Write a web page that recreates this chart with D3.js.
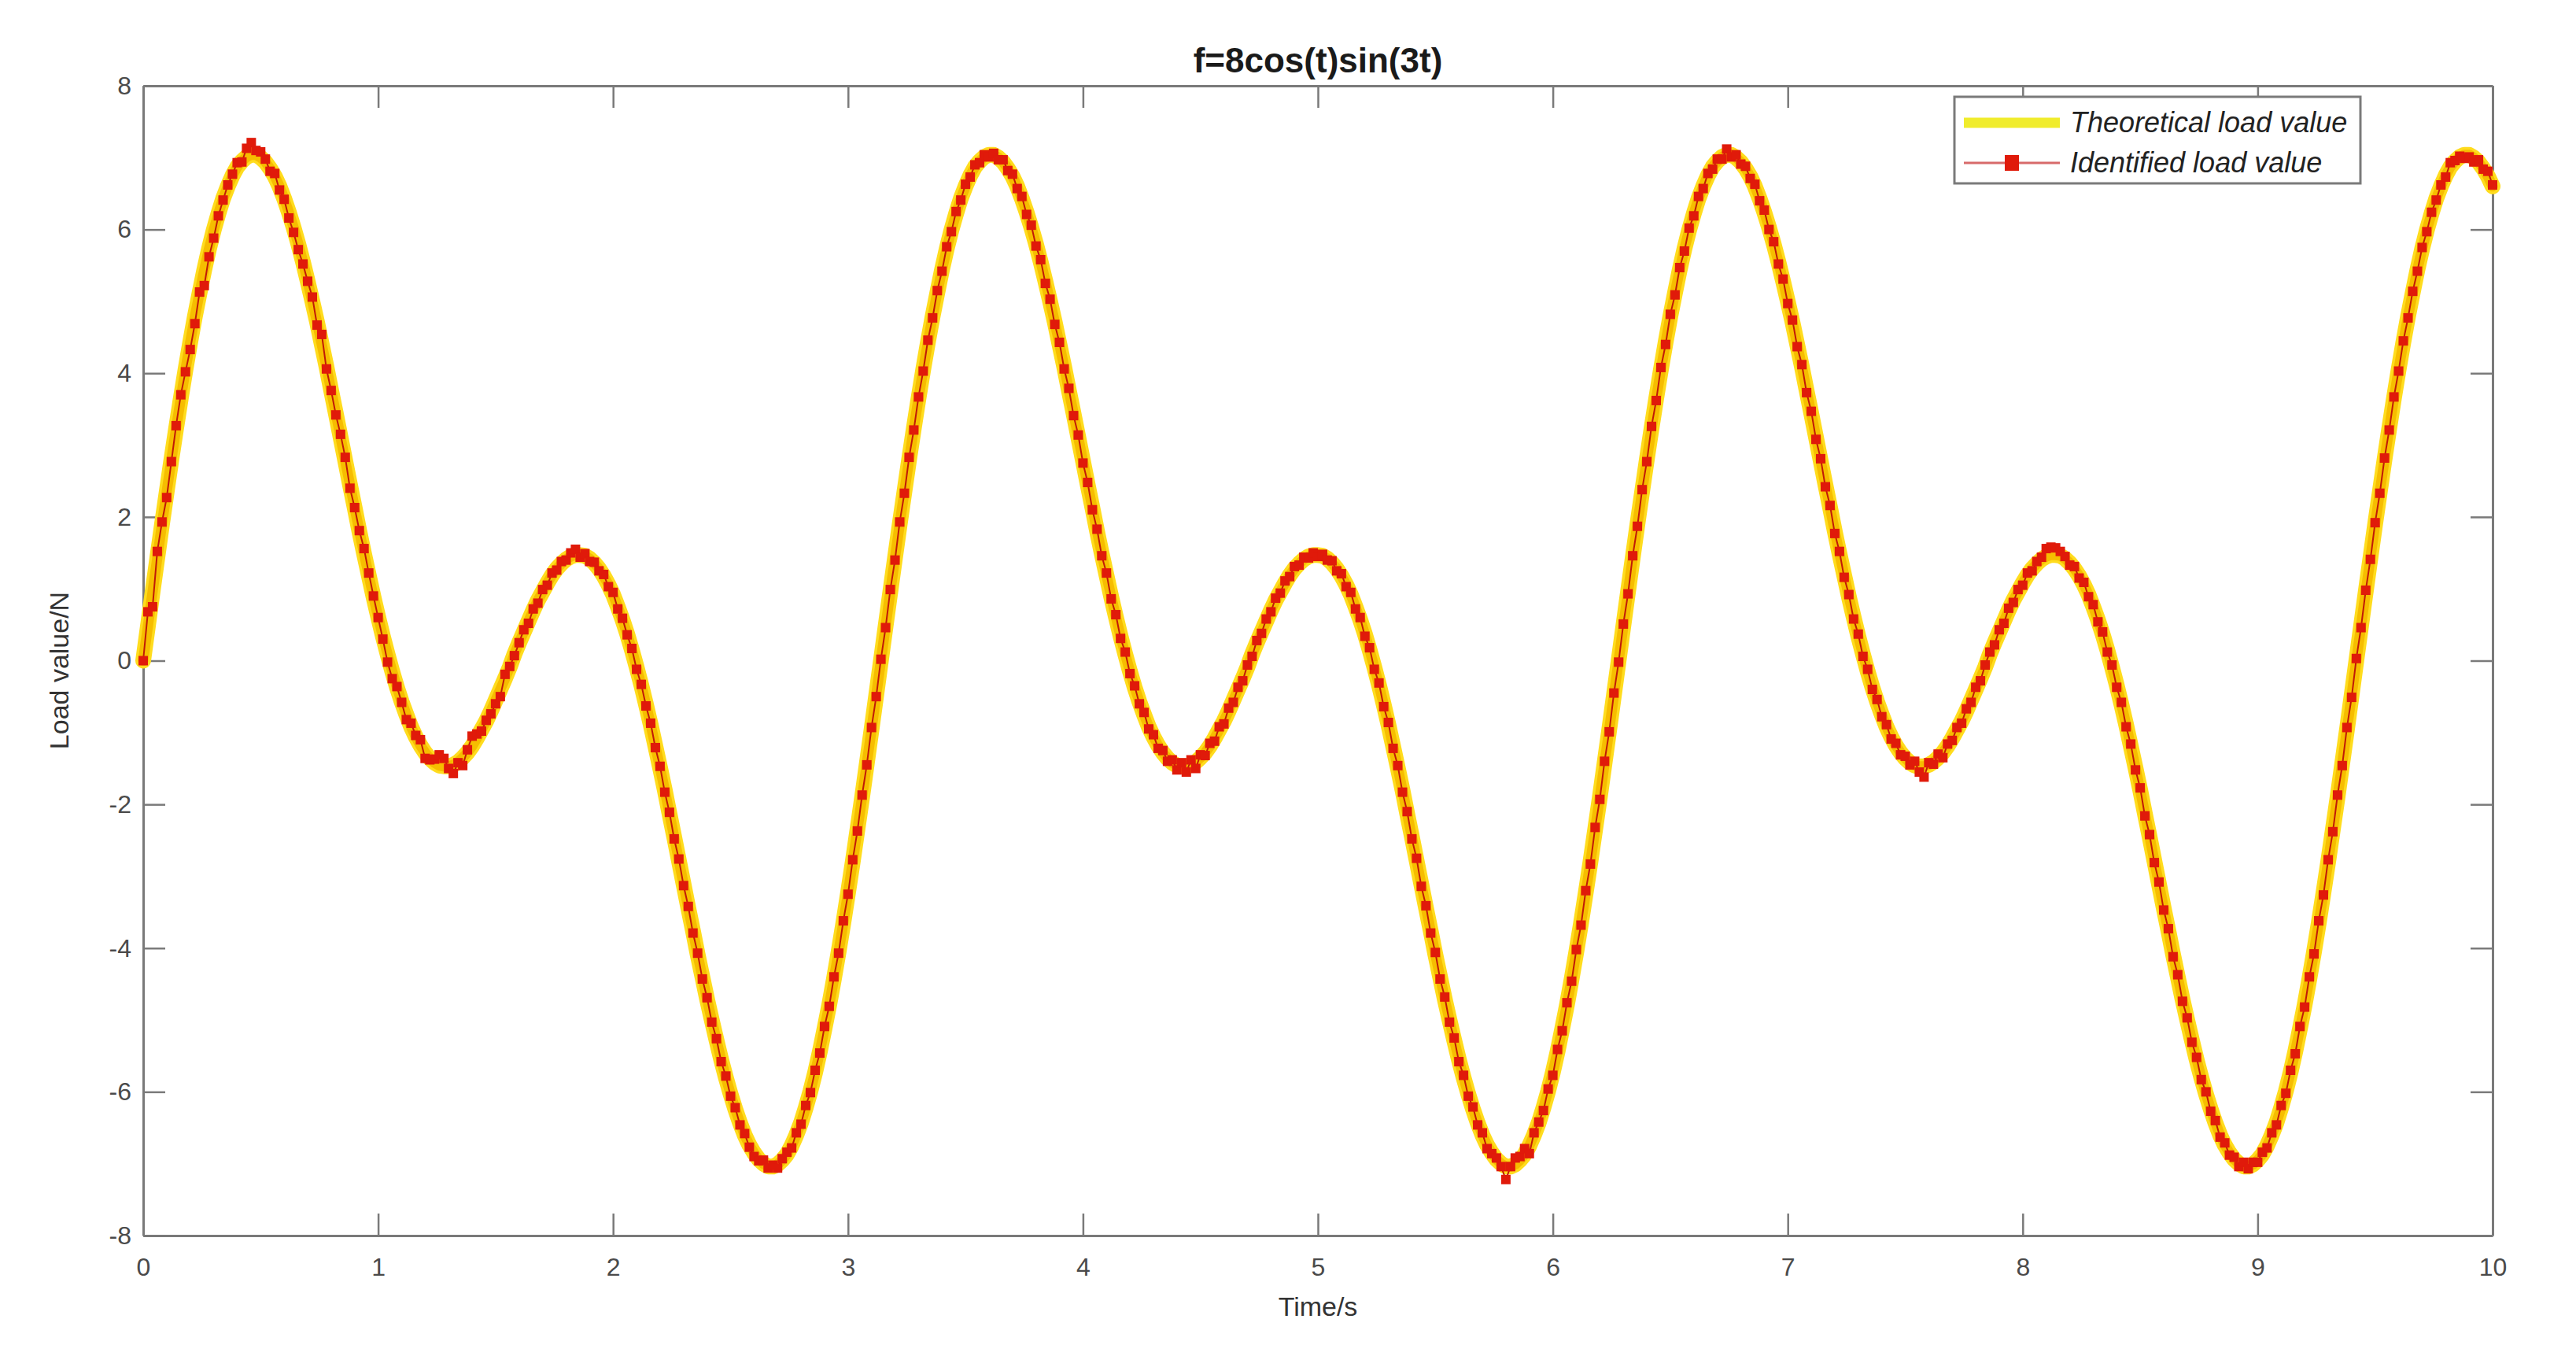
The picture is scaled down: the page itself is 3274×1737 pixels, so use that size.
<!DOCTYPE html>
<html>
<head>
<meta charset="utf-8">
<script src="https://cdn.jsdelivr.net/npm/d3@7"></script>
<style>
  body { margin: 0; background: #ffffff; }
  text { font-family: "Liberation Sans", Arial, Helvetica, sans-serif; }
</style>
</head>
<body>
<div id="chart"></div>
<script>
// sampling step of both series (seconds), first sample at t = 0
const timeStep = 0.02;

// theoretical load (N)
const theoreticalLoad = [
  0,0.48,0.96,1.43,1.90,2.35,2.80,3.23,3.65,4.05,
  4.43,4.79,5.12,5.44,5.73,5.99,6.22,6.43,6.60,6.75,
  6.87,6.95,7.01,7.04,7.04,7.00,6.94,6.85,6.74,6.60,
  6.43,6.24,6.03,5.80,5.55,5.28,5.00,4.71,4.40,4.09,
  3.76,3.44,3.11,2.78,2.45,2.13,1.80,1.49,1.19,0.89,
  0.61,0.34,0.09,-0.15,-0.37,-0.57,-0.75,-0.92,-1.06,-1.18,
  -1.28,-1.36,-1.42,-1.46,-1.47,-1.47,-1.45,-1.41,-1.35,-1.28,
  -1.19,-1.08,-0.96,-0.84,-0.70,-0.55,-0.40,-0.25,-0.09,0.09,
  0.25,0.40,0.55,0.70,0.84,0.96,1.08,1.19,1.28,1.35,
  1.41,1.45,1.47,1.47,1.46,1.42,1.36,1.28,1.18,1.06,
  0.92,0.75,0.57,0.37,0.15,-0.09,-0.34,-0.61,-0.89,-1.19,
  -1.49,-1.80,-2.13,-2.45,-2.78,-3.11,-3.44,-3.76,-4.09,-4.40,
  -4.71,-5.00,-5.28,-5.55,-5.80,-6.03,-6.24,-6.43,-6.60,-6.74,
  -6.85,-6.94,-7.00,-7.04,-7.04,-7.01,-6.95,-6.87,-6.75,-6.60,
  -6.43,-6.22,-5.99,-5.73,-5.44,-5.12,-4.79,-4.43,-4.05,-3.65,
  -3.23,-2.80,-2.35,-1.90,-1.43,-0.96,-0.48,
  0,0.48,0.96,1.43,1.90,2.35,2.80,3.23,3.65,4.05,
  4.43,4.79,5.12,5.44,5.73,5.99,6.22,6.43,6.60,6.75,
  6.87,6.95,7.01,7.04,7.04,7.00,6.94,6.85,6.74,6.60,
  6.43,6.24,6.03,5.80,5.55,5.28,5.00,4.71,4.40,4.09,
  3.76,3.44,3.11,2.78,2.45,2.13,1.80,1.49,1.19,0.89,
  0.61,0.34,0.09,-0.15,-0.37,-0.57,-0.75,-0.92,-1.06,-1.18,
  -1.28,-1.36,-1.42,-1.46,-1.47,-1.47,-1.45,-1.41,-1.35,-1.28,
  -1.19,-1.08,-0.96,-0.84,-0.70,-0.55,-0.40,-0.25,-0.09,0.09,
  0.25,0.40,0.55,0.70,0.84,0.96,1.08,1.19,1.28,1.35,
  1.41,1.45,1.47,1.47,1.46,1.42,1.36,1.28,1.18,1.06,
  0.92,0.75,0.57,0.37,0.15,-0.09,-0.34,-0.61,-0.89,-1.19,
  -1.49,-1.80,-2.13,-2.45,-2.78,-3.11,-3.44,-3.76,-4.09,-4.40,
  -4.71,-5.00,-5.28,-5.55,-5.80,-6.03,-6.24,-6.43,-6.60,-6.74,
  -6.85,-6.94,-7.00,-7.04,-7.04,-7.01,-6.95,-6.87,-6.75,-6.60,
  -6.43,-6.22,-5.99,-5.73,-5.44,-5.12,-4.79,-4.43,-4.05,-3.65,
  -3.23,-2.80,-2.35,-1.90,-1.43,-0.96,-0.48,
  0,0.48,0.96,1.43,1.90,2.35,2.80,3.23,3.65,4.05,
  4.43,4.79,5.12,5.44,5.73,5.99,6.22,6.43,6.60,6.75,
  6.87,6.95,7.01,7.04,7.04,7.00,6.94,6.85,6.74,6.60,
  6.43,6.24,6.03,5.80,5.55,5.28,5.00,4.71,4.40,4.09,
  3.76,3.44,3.11,2.78,2.45,2.13,1.80,1.49,1.19,0.89,
  0.61,0.34,0.09,-0.15,-0.37,-0.57,-0.75,-0.92,-1.06,-1.18,
  -1.28,-1.36,-1.42,-1.46,-1.47,-1.47,-1.45,-1.41,-1.35,-1.28,
  -1.19,-1.08,-0.96,-0.84,-0.70,-0.55,-0.40,-0.25,-0.09,0.09,
  0.25,0.40,0.55,0.70,0.84,0.96,1.08,1.19,1.28,1.35,
  1.41,1.45,1.47,1.47,1.46,1.42,1.36,1.28,1.18,1.06,
  0.92,0.75,0.57,0.37,0.15,-0.09,-0.34,-0.61,-0.89,-1.19,
  -1.49,-1.80,-2.13,-2.45,-2.78,-3.11,-3.44,-3.76,-4.09,-4.40,
  -4.71,-5.00,-5.28,-5.55,-5.80,-6.03,-6.24,-6.43,-6.60,-6.74,
  -6.85,-6.94,-7.00,-7.04,-7.04,-7.01,-6.95,-6.87,-6.75,-6.60,
  -6.43,-6.22,-5.99,-5.73,-5.44,-5.12,-4.79,-4.43,-4.05,-3.65,
  -3.23,-2.80,-2.35,-1.90,-1.43,-0.96,-0.48,
  0,0.48,0.96,1.43,1.90,2.35,2.80,3.23,3.65,4.05,
  4.43,4.79,5.12,5.44,5.73,5.99,6.22,6.43,6.60,6.75,
  6.87,6.95,7.01,7.04,7.04,7.00,6.94,6.85,6.74,6.60
];

// identified load (N)
const identifiedLoad = [
  0,0.68,0.75,1.52,1.93,2.27,2.77,3.27,3.70,4.02,
  4.33,4.69,5.13,5.22,5.62,5.88,6.19,6.41,6.62,6.77,
  6.93,6.94,7.13,7.21,7.10,7.08,6.98,6.81,6.78,6.55,
  6.42,6.16,5.96,5.72,5.52,5.28,5.06,4.67,4.54,4.06,
  3.76,3.42,3.15,2.83,2.40,2.13,1.81,1.56,1.22,0.90,
  0.60,0.30,-0.02,-0.25,-0.36,-0.58,-0.82,-0.87,-1.04,-1.10,
  -1.36,-1.38,-1.37,-1.31,-1.36,-1.50,-1.57,-1.42,-1.46,-1.24,
  -1.05,-1.02,-0.98,-0.83,-0.74,-0.60,-0.50,-0.19,-0.08,0.07,
  0.25,0.43,0.52,0.72,0.80,0.99,1.05,1.22,1.26,1.38,
  1.40,1.50,1.55,1.44,1.49,1.38,1.37,1.25,1.20,1.03,
  0.95,0.72,0.59,0.36,0.17,-0.12,-0.33,-0.63,-0.87,-1.21,
  -1.47,-1.83,-2.11,-2.48,-2.76,-3.13,-3.42,-3.79,-4.07,-4.43,
  -4.69,-5.03,-5.26,-5.58,-5.78,-6.06,-6.22,-6.46,-6.58,-6.77,
  -6.90,-6.96,-6.95,-7.06,-7.02,-7.06,-6.93,-6.84,-6.78,-6.57,
  -6.45,-6.19,-6.01,-5.70,-5.46,-5.09,-4.81,-4.40,-4.07,-3.62,
  -3.25,-2.77,-2.37,-1.87,-1.45,-0.93,-0.50,
  0.02,0.46,0.99,1.40,1.93,2.33,2.83,3.21,3.67,4.03,
  4.46,4.77,5.15,5.42,5.76,5.97,6.25,6.41,6.63,6.73,
  6.90,6.93,7.04,7.01,7.06,6.97,6.97,6.82,6.77,6.57,
  6.46,6.21,6.06,5.77,5.58,5.25,5.03,4.68,4.43,4.06,
  3.79,3.41,3.14,2.75,2.48,2.10,1.83,1.46,1.22,0.86,
  0.64,0.31,0.12,-0.18,-0.35,-0.60,-0.72,-0.95,-1.03,-1.22,
  -1.25,-1.40,-1.38,-1.52,-1.42,-1.55,-1.38,-1.50,-1.31,-1.32,
  -1.15,-1.12,-0.92,-0.88,-0.66,-0.58,-0.37,-0.28,-0.06,0.06,
  0.28,0.38,0.58,0.68,0.87,0.94,1.11,1.17,1.31,1.33,
  1.44,1.43,1.50,1.45,1.48,1.40,1.39,1.25,1.21,1.03,
  0.95,0.72,0.60,0.34,0.18,-0.12,-0.31,-0.64,-0.86,-1.22,
  -1.46,-1.83,-2.10,-2.48,-2.75,-3.14,-3.41,-3.79,-4.06,-4.43,
  -4.68,-5.03,-5.25,-5.58,-5.77,-6.06,-6.21,-6.46,-6.57,-6.79,
  -6.86,-6.92,-7.04,-7.22,-7.04,-6.92,-6.90,-6.79,-6.86,-6.57,
  -6.42,-6.26,-5.96,-5.77,-5.41,-5.15,-4.76,-4.46,-4.02,-3.68,
  -3.20,-2.83,-2.32,-1.93,-1.40,-0.99,-0.45,
  -0.02,0.51,0.93,1.46,1.87,2.38,2.77,3.26,3.62,4.08,
  4.40,4.82,5.09,5.47,5.70,6.02,6.19,6.46,6.57,6.78,
  6.84,6.98,6.98,7.12,7.01,7.04,6.91,6.88,6.71,6.63,
  6.40,6.27,6.00,5.83,5.52,5.31,4.97,4.74,4.37,4.12,
  3.73,3.47,3.08,2.81,2.42,2.16,1.77,1.52,1.16,0.92,
  0.58,0.37,0.06,-0.12,-0.40,-0.54,-0.78,-0.89,-1.09,-1.15,
  -1.31,-1.33,-1.45,-1.40,-1.55,-1.62,-1.42,-1.44,-1.30,-1.35,
  -1.16,-1.11,-0.93,-0.87,-0.67,-0.58,-0.37,-0.28,-0.06,0.12,
  0.22,0.43,0.52,0.73,0.81,0.99,1.05,1.22,1.25,1.38,
  1.44,1.56,1.58,1.57,1.52,1.45,1.33,1.31,1.15,1.09,
  0.89,0.78,0.54,0.40,0.12,-0.06,-0.37,-0.58,-0.92,-1.16,
  -1.52,-1.77,-2.16,-2.42,-2.81,-3.08,-3.47,-3.73,-4.12,-4.37,
  -4.74,-4.97,-5.31,-5.52,-5.83,-6.00,-6.27,-6.40,-6.63,-6.71,
  -6.88,-6.91,-7.04,-6.98,-7.07,-6.98,-6.98,-6.84,-6.78,-6.57,
  -6.46,-6.19,-6.02,-5.70,-5.47,-5.09,-4.82,-4.40,-4.08,-3.62,
  -3.26,-2.77,-2.38,-1.87,-1.46,-0.93,-0.51,
  0.03,0.46,0.98,1.41,1.92,2.33,2.82,3.21,3.67,4.03,
  4.45,4.77,5.14,5.42,5.75,5.97,6.24,6.41,6.62,6.73,
  6.93,6.96,7.02,6.99,7.01,6.94,6.97,6.84,6.81,6.62
];

const xTicks = [0, 1, 2, 3, 4, 5, 6, 7, 8, 9, 10];
const yTicks = [-8, -6, -4, -2, 0, 2, 4, 6, 8];
const seriesNames = ["Theoretical load value", "Identified load value"];
const chartTitle = "f=8cos(t)sin(3t)";
const xLabel = "Time/s";
const yLabel = "Load value/N";

function drawChart() {
    let width = 3274;
    let height = 1737;
    let left = 182, right = 3168, top = 109, bottom = 1570;
    let axisColor = "#7a7a7a";
    let tickLen = 28;

    let svg = d3.select("#chart")
        .append("svg")
        .attr("width", width)
        .attr("height", height)
        .style("background", "white");

    let xScale = d3.scaleLinear().domain([0, 10]).range([left, right]);
    let yScale = d3.scaleLinear().domain([-8, 8]).range([bottom, top]);

    // plain hyphen minus like matlab
    let plainFormat = function(d) { return String(d); };

    // axes first, data is drawn over them (matlab default layer)
    function styleAxis(g, showLabels) {
        g.attr("color", axisColor)
            .attr("font-size", 32)
            .attr("font-family", "'Liberation Sans', Arial, sans-serif");
        g.select(".domain").attr("stroke-width", 3);
        g.selectAll(".tick line").attr("stroke-width", 2.5);
        g.selectAll(".tick text").attr("fill", showLabels ? "#4a4a4a" : "none");
    }

    svg.append("g")
        .attr("transform", "translate(0," + bottom + ")")
        .call(d3.axisBottom(xScale).tickValues(xTicks).tickFormat(plainFormat).tickSizeInner(-tickLen).tickSizeOuter(0).tickPadding(28))
        .call(styleAxis, true);

    svg.append("g")
        .attr("transform", "translate(0," + top + ")")
        .call(d3.axisTop(xScale).tickValues(xTicks).tickSizeInner(-tickLen).tickSizeOuter(0).tickFormat(""))
        .call(styleAxis, false);

    svg.append("g")
        .attr("transform", "translate(" + left + ",0)")
        .call(d3.axisLeft(yScale).tickValues(yTicks).tickFormat(plainFormat).tickSizeInner(-tickLen).tickSizeOuter(0).tickPadding(15))
        .call(styleAxis, true);

    svg.append("g")
        .attr("transform", "translate(" + right + ",0)")
        .call(d3.axisRight(yScale).tickValues(yTicks).tickSizeInner(-tickLen).tickSizeOuter(0).tickFormat(""))
        .call(styleAxis, false);

    let line = d3.line()
        .x(function(d, i) { return xScale(i * timeStep); })
        .y(function(d) { return yScale(d); });

    // theoretical curve: wide yellow band with a golden core
    svg.append("path")
        .datum(theoreticalLoad)
        .attr("d", line)
        .attr("fill", "none")
        .attr("stroke", "#ffdc1e")
        .attr("stroke-width", 20)
        .attr("stroke-linejoin", "round")
        .attr("stroke-linecap", "round");

    svg.append("path")
        .datum(theoreticalLoad)
        .attr("d", line)
        .attr("fill", "none")
        .attr("stroke", "#f6bd00")
        .attr("stroke-width", 13)
        .attr("stroke-linejoin", "round")
        .attr("stroke-linecap", "round");

    // identified: thin red line with square markers
    svg.append("path")
        .datum(identifiedLoad)
        .attr("d", line)
        .attr("fill", "none")
        .attr("stroke", "#c01a06")
        .attr("stroke-width", 2);

    let markerSize = 12;
    svg.append("g")
        .selectAll("rect")
        .data(identifiedLoad)
        .enter().append("rect")
        .attr("x", function(d, i) { return xScale(i * timeStep) - markerSize / 2; })
        .attr("y", function(d) { return yScale(d) - markerSize / 2; })
        .attr("width", markerSize)
        .attr("height", markerSize)
        .attr("fill", "#e01a0a");

    // TITLE
    svg.append("text")
        .attr("x", (left + right) / 2)
        .attr("y", 92)
        .attr("text-anchor", "middle")
        .attr("font-size", 44)
        .attr("font-weight", "bold")
        .attr("fill", "#1a1a1a")
        .text(chartTitle);

    // X AXIS LABEL
    svg.append("text")
        .attr("x", (left + right) / 2)
        .attr("y", 1672)
        .attr("text-anchor", "middle")
        .attr("font-size", 34)
        .attr("fill", "#333")
        .text(xLabel);

    // Y AXIS LABEL
    svg.append("text")
        .attr("transform", "translate(87," + 852 + ") rotate(-90)")
        .attr("text-anchor", "middle")
        .attr("font-size", 34)
        .attr("fill", "#333")
        .text(yLabel);

    // LEGEND
    let legend = svg.append("g").attr("transform", "translate(2484,123)");
    legend.append("rect")
        .attr("width", 516)
        .attr("height", 110)
        .attr("fill", "white")
        .attr("stroke", axisColor)
        .attr("stroke-width", 3);

    legend.append("line")
        .attr("x1", 12).attr("x2", 134)
        .attr("y1", 33).attr("y2", 33)
        .attr("stroke", "#f0ec2c")
        .attr("stroke-width", 13);

    legend.append("line")
        .attr("x1", 12).attr("x2", 134)
        .attr("y1", 84).attr("y2", 84)
        .attr("stroke", "#d86a6a")
        .attr("stroke-width", 3);

    legend.append("rect")
        .attr("x", 73 - 9).attr("y", 84 - 10)
        .attr("width", 18).attr("height", 20)
        .attr("fill", "#e01a0a");

    legend.selectAll(".legend-text")
        .data(seriesNames)
        .enter().append("text")
        .attr("class", "legend-text")
        .attr("x", 147)
        .attr("y", function(d, i) { return 45 + i * 51; })
        .attr("font-size", 36)
        .attr("font-style", "italic")
        .attr("fill", "#222")
        .text(function(d) { return d; });
}

window.onload = () => {
    drawChart();
}
</script>
</body>
</html>
